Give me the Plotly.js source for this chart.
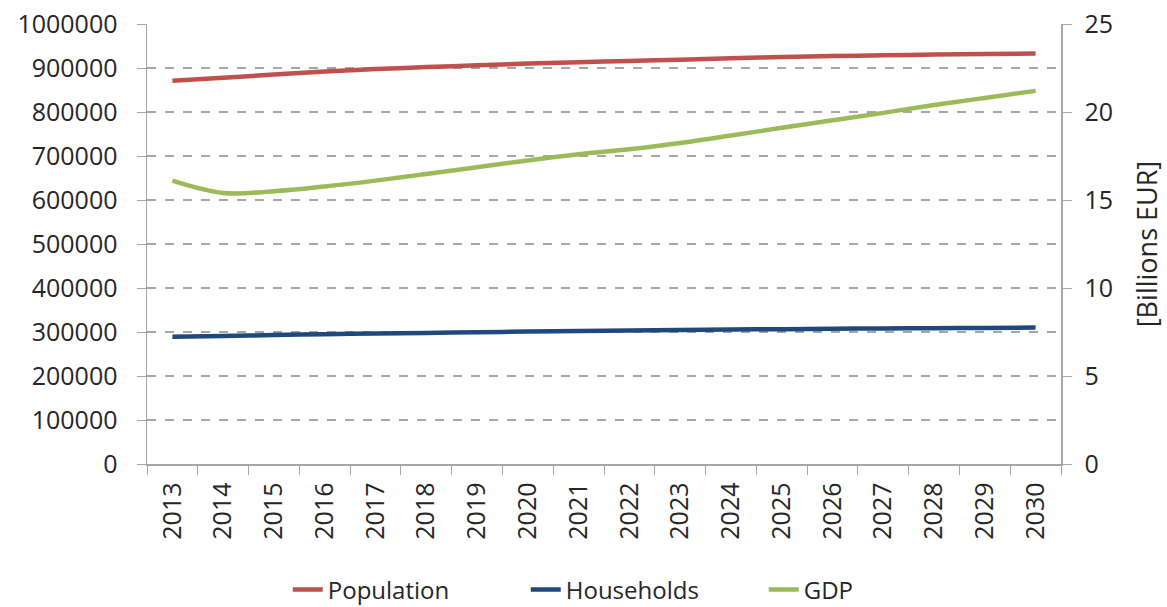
<!DOCTYPE html>
<html>
<head>
<meta charset="utf-8">
<script src="https://cdn.plot.ly/plotly-3.0.1.min.js"></script>
<style>html,body{margin:0;padding:0;background:#fff;}#chart{width:1167px;height:607px;}</style>
</head>
<body>
<div id="chart"></div>
<script>
const years = ['2013','2014','2015','2016','2017','2018','2019','2020','2021','2022','2023','2024','2025','2026','2027','2028','2029','2030'];
const population = [871000, 878000, 885000, 892000, 897500, 902000, 906000, 910000, 913000, 916000, 919000, 922000, 925000, 927000, 929000, 930500, 931800, 933000];
const households = [289000, 291000, 293000, 295000, 296500, 298000, 299500, 301000, 302500, 303500, 304500, 305500, 306500, 307500, 308000, 308700, 309300, 310000];
const gdp = [16.1, 15.4, 15.5, 15.77, 16.1, 16.48, 16.86, 17.25, 17.6, 17.88, 18.24, 18.66, 19.1, 19.53, 19.95, 20.4, 20.8, 21.2];

const FONT = 'Open Sans, Lato, sans-serif';
const TXT = '#262626';
const FS = 25;

const traces = [
  {x: years, y: population, name: 'Population', type: 'scatter', mode: 'lines',
   line: {color: '#C0504D', width: 4.5, shape: 'spline'}},
  {x: years, y: households, name: 'Households', type: 'scatter', mode: 'lines',
   line: {color: '#1F497D', width: 4.5, shape: 'spline'}},
  {x: years, y: gdp, name: 'GDP', type: 'scatter', mode: 'lines', yaxis: 'y2',
   line: {color: '#9BBB59', width: 4.5, shape: 'spline'}}
];

const layout = {
  width: 1167, height: 607,
  margin: {l: 147, r: 106, t: 24, b: 143, autoexpand: false},
  paper_bgcolor: '#fff', plot_bgcolor: '#fff',
  font: {family: FONT, size: FS, color: TXT},
  showlegend: true,
  legend: {orientation: 'h', x: 0.154, xanchor: 'left', y: -0.286, yanchor: 'middle',
           font: {family: FONT, size: 24, color: TXT}, entrywidth: 193, entrywidthmode: 'pixels',
           traceorder: 'normal'},
  xaxis: {type: 'category', range: [-0.5, 17.5], tickson: 'boundaries', ticks: 'outside', ticklen: 9,
          tickcolor: '#a6a6a6', automargin: false, ticklabelstandoff: 7,
          showline: true, linecolor: '#a6a6a6', linewidth: 1.5, showgrid: false,
          tickangle: -90, tickfont: {family: FONT, size: FS, color: TXT}, fixedrange: true},
  yaxis: {range: [0, 1000000], dtick: 100000, tickformat: 'd', ticks: 'outside', ticklen: 9,
          tickcolor: '#a6a6a6', showline: true, linecolor: '#a6a6a6', linewidth: 1.5, automargin: false,
          showgrid: true, gridcolor: '#a6a6a6', griddash: 'dash', gridwidth: 1.2,
          zeroline: false, tickfont: {family: FONT, size: FS, color: TXT}, ticklabelstandoff: 14},
  yaxis2: {range: [0, 25], dtick: 5, overlaying: 'y', side: 'right', ticks: 'outside', ticklen: 9,
           tickcolor: '#a6a6a6', showline: true, linecolor: '#a6a6a6', linewidth: 1.5, automargin: false,
           showgrid: false, zeroline: false, tickfont: {family: FONT, size: FS, color: TXT},
           ticklabelstandoff: 8,
           title: {text: '[Billions EUR]', font: {family: FONT, size: 27, color: TXT}, standoff: 26}}
};

Plotly.newPlot('chart', traces, layout, {displayModeBar: false, staticPlot: true});
</script>
</body>
</html>
